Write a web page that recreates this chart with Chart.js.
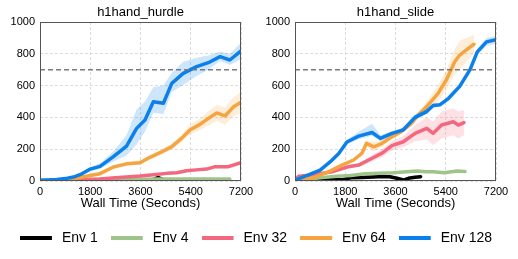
<!DOCTYPE html>
<html><head><meta charset="utf-8">
<script src="https://cdn.jsdelivr.net/npm/chart.js@4.4.1/dist/chart.umd.min.js"></script>
<style>
html,body{margin:0;padding:0;background:#fff;width:518px;height:259px;overflow:hidden}
canvas{position:absolute;display:block}
</style></head><body>
<canvas id="c1" width="259" height="215" style="left:0;top:0"></canvas>
<canvas id="c2" width="259" height="215" style="left:259px;top:0"></canvas>
<canvas id="c3" width="518" height="44" style="left:0;top:215px"></canvas>
<script>
// ---------- data ----------
const X_TICKS = [0, 1800, 3600, 5400, 7200];
const Y_TICKS = [0, 200, 400, 600, 800, 1000];
const THRESHOLD = 700;
const LABELS = ['Env 1', 'Env 4', 'Env 32', 'Env 64', 'Env 128'];
const TITLES = ['h1hand_hurdle', 'h1hand_slide'];

// h1hand_hurdle
const hurdle1T = [0, 900, 1800, 2700, 3600, 4000, 4240, 4450, 4700];
const hurdle1V = [0, 1, 2, 3, 4, 6, 22, 6, 5];
const hurdle4T = [0, 600, 1200, 1800, 2400, 3000, 3600, 4200, 4800, 5400, 6000, 6800];
const hurdle4V = [5, 7, 8, 9, 10, 10, 11, 12, 12, 13, 13, 13];
const hurdle32T  = [0, 600, 1200, 1800, 2150, 2700, 3100, 3580, 4060, 4540, 4900, 5250, 5600, 5970, 6270, 6750, 7200];
const hurdle32V  = [0, 3, 6, 9, 12, 20, 25, 31, 40, 48, 52, 65, 70, 75, 90, 90, 115];
const hurdle32Lo = [0, 2, 4, 7, 9, 16, 21, 26, 34, 42, 45, 57, 62, 66, 80, 80, 102];
const hurdle32Hi = [0, 4, 8, 11, 15, 24, 29, 36, 46, 54, 59, 73, 78, 84, 100, 100, 128];
const hurdle64T  = [0, 600, 1000, 1430, 1800, 2150, 2630, 3100, 3580, 3940, 4300, 4720, 5070, 5370, 5730, 6030, 6330, 6630, 6920, 7200];
const hurdle64V  = [0, 2, 8, 22, 35, 46, 88, 108, 115, 149, 178, 216, 268, 321, 356, 394, 428, 409, 465, 495];
const hurdle64Lo = [0, 1, 6, 18, 30, 40, 80, 98, 103, 135, 162, 198, 243, 291, 321, 349, 378, 354, 405, 430];
const hurdle64Hi = [0, 3, 10, 26, 40, 52, 96, 118, 127, 163, 194, 234, 293, 351, 391, 439, 478, 464, 525, 560];
const hurdle128T  = [0, 300, 600, 900, 1200, 1500, 1800, 2150, 2630, 3100, 3460, 3760, 4060, 4420, 4720, 5130, 5610, 6030, 6450, 6800, 7200];
const hurdle128V  = [5, 7, 10, 15, 25, 45, 75, 92, 153, 220, 331, 384, 499, 489, 614, 677, 719, 744, 782, 761, 818];
const hurdle128Lo = [3, 5, 8, 12, 20, 38, 62, 75, 122, 160, 230, 310, 430, 420, 560, 604, 660, 700, 755, 730, 765];
const hurdle128Hi = [7, 9, 12, 18, 30, 52, 88, 110, 185, 290, 450, 500, 590, 600, 680, 750, 775, 790, 815, 800, 870];

// h1hand_slide
const slide1T = [500, 900, 1400, 1700, 2000, 2400, 2800, 3200, 3400, 3650, 3880, 4060, 4300, 4500];
const slide1V = [0, 5, 12, 8, 20, 22, 25, 28, 27, 17, 6, 17, 23, 27];
const slide4T = [0, 500, 1000, 1500, 2000, 2500, 3000, 3500, 4000, 4350, 4700, 4950, 5350, 5800, 6090];
const slide4V = [0, 12, 22, 30, 35, 45, 48, 52, 58, 63, 58, 58, 52, 63, 60];
const slide32T  = [0, 130, 600, 1320, 1920, 2280, 2760, 3120, 3470, 3880, 4300, 4720, 4950, 5250, 5670, 5850, 6050];
const slide32V  = [5, 30, 38, 58, 90, 100, 143, 175, 222, 247, 300, 331, 300, 352, 373, 352, 367];
const slide32Lo = [3, 25, 32, 50, 80, 88, 123, 150, 192, 212, 250, 261, 225, 267, 288, 267, 287];
const slide32Hi = [7, 35, 44, 66, 100, 112, 163, 200, 252, 282, 350, 401, 375, 437, 458, 437, 447];
const slide64T  = [0, 600, 1200, 1680, 2100, 2400, 2560, 2820, 3120, 3400, 3800, 4170, 4400, 4700, 5120, 5420, 5720, 5900, 6210, 6410];
const slide64V  = [0, 17, 58, 100, 132, 175, 237, 215, 237, 270, 310, 363, 412, 465, 550, 635, 750, 792, 834, 860];
const slide64Lo = [0, 14, 53, 94, 124, 163, 217, 185, 217, 255, 295, 343, 392, 435, 500, 575, 670, 702, 764, 800];
const slide64Hi = [0, 20, 63, 106, 140, 187, 257, 245, 257, 285, 325, 383, 432, 495, 600, 695, 830, 882, 904, 920];
const slide128T  = [0, 370, 900, 1320, 1560, 1860, 2280, 2760, 3060, 3470, 3880, 4300, 4700, 4950, 5200, 5500, 5900, 6270, 6530, 6860, 7200];
const slide128V  = [5, 30, 68, 130, 172, 245, 282, 305, 268, 300, 322, 400, 435, 475, 480, 520, 595, 700, 812, 875, 888];
const slide128Lo = [3, 26, 63, 122, 162, 230, 262, 285, 250, 288, 307, 385, 420, 463, 468, 505, 580, 685, 792, 850, 863];
const slide128Hi = [7, 34, 73, 138, 182, 260, 310, 360, 290, 312, 337, 420, 450, 487, 492, 535, 610, 715, 832, 900, 913];

// ---------- styles ----------
const COLORS = ['#000000', '#9fc48a', '#f4687f', '#f5a540', '#0b80ea'];
const FONT = "'Liberation Sans', Arial, Helvetica, sans-serif";
Chart.defaults.font.family = FONT;
Chart.defaults.color = '#000';
Chart.defaults.animation = false;

function pts(t, v) { return t.map((x, i) => ({ x: x, y: v[i] })); }
function rgba(hex, a) {
  const n = parseInt(hex.slice(1), 16);
  return 'rgba(' + (n >> 16) + ',' + ((n >> 8) & 255) + ',' + (n & 255) + ',' + a + ')';
}
function seriesDatasets(k, t, v, lo, hi) {
  const c = COLORS[k];
  const base = 10 - 2 * k;
  const out = [];
  if (lo) {
    out.push({ data: pts(t, lo), borderColor: 'transparent', borderWidth: 1, pointRadius: 0, fill: false, order: base + 1 });
    out.push({ data: pts(t, hi), borderColor: 'transparent', borderWidth: 1, pointRadius: 0, fill: '-1',
               backgroundColor: rgba(c, 0.2), order: base + 1 });
  }
  out.push({ label: LABELS[k], data: pts(t, v), borderColor: c, borderWidth: 3.5, pointRadius: 0, fill: false,
             order: base, borderJoinStyle: 'round', borderCapStyle: 'round', tension: 0 });
  return out;
}

const framePlugin = {
  id: 'frame',
  afterDatasetsDraw(chart) {
    const a = chart.chartArea, ctx = chart.ctx;
    ctx.save();
    ctx.strokeStyle = '#555';
    ctx.lineWidth = 1;
    ctx.strokeRect(Math.round(a.left) + 0.5, Math.round(a.top) + 0.5,
                   Math.round(a.right - a.left) - 1, Math.round(a.bottom - a.top) - 1);
    ctx.restore();
  }
};

function makePanel(id, title, datasets, yWidth, padRight) {
  const all = [{ data: [{ x: X_TICKS[0], y: THRESHOLD }, { x: X_TICKS[X_TICKS.length - 1], y: THRESHOLD }],
                 borderColor: '#7a7a7a', borderWidth: 1.5, borderDash: [5, 3], pointRadius: 0, fill: false, order: 0 }]
    .concat(datasets);
  const gridOpts = { color: '#dcdcdc', lineWidth: 1, drawTicks: false };
  return new Chart(document.getElementById(id), {
    type: 'line',
    data: { datasets: all },
    plugins: [framePlugin],
    options: {
      responsive: false,
      animation: false,
      events: [],
      layout: { padding: { left: 0, right: padRight, top: 0, bottom: 0 } },
      plugins: { legend: { display: false }, tooltip: { enabled: false }, title: { display: false } },
      scales: {
        x: {
          type: 'linear', position: 'bottom', min: X_TICKS[0], max: X_TICKS[X_TICKS.length - 1],
          afterBuildTicks: s => { s.ticks = X_TICKS.map(v => ({ value: v })); },
          ticks: { font: { size: 11 }, padding: 4, maxRotation: 0, autoSkip: false, color: '#000',
                   callback: v => String(v) },
          grid: gridOpts,
          border: { display: false, dash: [3, 2] },
          title: { display: true, text: 'Wall Time (Seconds)', font: { size: 13, lineHeight: 1 },
                   padding: { top: 0, bottom: 5 }, color: '#000' },
          afterFit: s => { s.height = 34; }
        },
        xTop: {
          type: 'linear', position: 'top', min: X_TICKS[0], max: X_TICKS[X_TICKS.length - 1],
          ticks: { display: false }, grid: { display: false, drawTicks: false }, border: { display: false },
          title: { display: true, text: title, font: { size: 13, lineHeight: 1.2 }, padding: { top: 5, bottom: 0 }, color: '#000' },
          afterFit: s => { s.height = 22; }
        },
        y: {
          type: 'linear', min: Y_TICKS[0], max: Y_TICKS[Y_TICKS.length - 1],
          afterBuildTicks: s => { s.ticks = Y_TICKS.map(v => ({ value: v })); },
          ticks: { font: { size: 11 }, padding: 5, color: '#000', callback: v => String(v) },
          grid: gridOpts,
          border: { display: false, dash: [3, 2] },
          afterFit: s => { s.width = yWidth; }
        }
      }
    }
  });
}

makePanel('c1', TITLES[0], [].concat(
  seriesDatasets(0, hurdle1T, hurdle1V),
  seriesDatasets(1, hurdle4T, hurdle4V),
  seriesDatasets(2, hurdle32T, hurdle32V, hurdle32Lo, hurdle32Hi),
  seriesDatasets(3, hurdle64T, hurdle64V, hurdle64Lo, hurdle64Hi),
  seriesDatasets(4, hurdle128T, hurdle128V, hurdle128Lo, hurdle128Hi)
), 40, 18);

makePanel('c2', TITLES[1], [].concat(
  seriesDatasets(0, slide1T, slide1V),
  seriesDatasets(1, slide4T, slide4V),
  seriesDatasets(2, slide32T, slide32V, slide32Lo, slide32Hi),
  seriesDatasets(3, slide64T, slide64V, slide64Lo, slide64Hi),
  seriesDatasets(4, slide128T, slide128V, slide128Lo, slide128Hi)
), 36, 22);

// ---------- legend ----------
function legendImg(color) {
  const c = document.createElement('canvas');
  c.width = 35; c.height = 4;
  const g = c.getContext('2d');
  g.fillStyle = color;
  g.fillRect(0, 0, 32, 4);
  return c;
}
const legendImgs = COLORS.map(legendImg);
new Chart(document.getElementById('c3'), {
  type: 'line',
  data: { datasets: LABELS.map((l, i) => ({ label: l, data: [], borderColor: COLORS[i], backgroundColor: COLORS[i] })) },
  options: {
    responsive: false, animation: false, events: [],
    layout: { padding: { top: 3, right: 6 } },
    scales: { x: { display: false }, y: { display: false } },
    plugins: {
      tooltip: { enabled: false },
      legend: {
        display: true, position: 'top', maxHeight: 60,
        labels: {
          usePointStyle: true, pointStyleWidth: 35, boxHeight: 14, padding: 13,
          font: { size: 14 }, color: '#000',
          generateLabels: chart => chart.data.datasets.map((d, i) => ({
            text: d.label, pointStyle: legendImgs[i], fillStyle: d.borderColor, strokeStyle: d.borderColor,
            lineWidth: 0, hidden: false, datasetIndex: i, fontColor: '#000'
          }))
        }
      }
    }
  }
});
</script>
</body></html>
